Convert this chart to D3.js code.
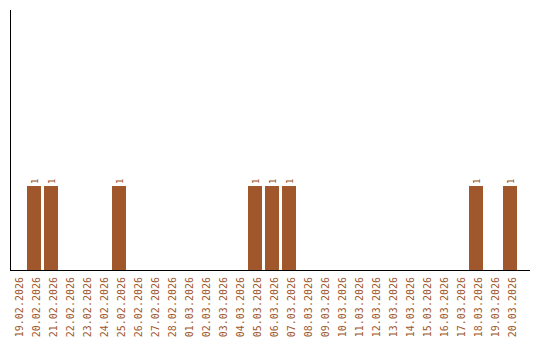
<!DOCTYPE html>
<html lang="en">
<head>
  <meta charset="UTF-8">
  <title>Daily count</title>
  <style>
    body { margin: 0; background: #fff; }
    svg { display: block; }
  </style>
</head>
<body>

<svg id="chart" width="540" height="340"></svg>

<script src="https://cdn.jsdelivr.net/npm/d3@7"></script>

<script>
var days = ["19.02.2026", "20.02.2026", "21.02.2026", "22.02.2026", "23.02.2026",
  "24.02.2026", "25.02.2026", "26.02.2026", "27.02.2026", "28.02.2026",
  "01.03.2026", "02.03.2026", "03.03.2026", "04.03.2026", "05.03.2026",
  "06.03.2026", "07.03.2026", "08.03.2026", "09.03.2026", "10.03.2026",
  "11.03.2026", "12.03.2026", "13.03.2026", "14.03.2026", "15.03.2026",
  "16.03.2026", "17.03.2026", "18.03.2026", "19.03.2026", "20.03.2026"];
var counts = [0, 1, 1, 0, 0, 0, 1, 0, 0, 0,
  0, 0, 0, 0, 1, 1, 1, 0, 0, 0,
  0, 0, 0, 0, 0, 0, 0, 1, 0, 1];

var svg = d3.select("#chart"),
  plotL = 10.5, plotR = 520.5, plotT = 10, plotB = 270,
  brown = "#a0572c";

var x = d3.scaleBand()
  .domain(days)
  .range([plotL, plotR]);

var y = d3.scaleLinear()
  .domain([0, 3.1])
  .range([plotB, plotT]);

var rows = days.map(function (d, i) { return { day: d, n: counts[i] }; });
var filled = rows.filter(function (d) { return d.n > 0; });

// bars
svg.append("g")
  .selectAll("rect")
  .data(filled)
  .join("rect")
    .attr("x", function (d) { return x(d.day) - 0.5; })
    .attr("y", function (d) { return Math.round(y(d.n)); })
    .attr("width", x.bandwidth() - 3)
    .attr("height", function (d) { return plotB - Math.round(y(d.n)); })
    .attr("fill", brown);

// value labels
svg.append("g")
  .selectAll("text")
  .data(filled)
  .join("text")
    .attr("transform", function (d) {
      return "translate(" + (x(d.day) + 10) + "," + (Math.round(y(d.n)) - 2) + ") rotate(-90)";
    })
    .attr("font-family", "DejaVu Sans Mono")
    .attr("font-size", 9)
    .attr("fill", brown)
    .text(function (d) { return d.n; });

// axes
svg.append("line")
  .attr("x1", plotL).attr("x2", plotL)
  .attr("y1", plotT).attr("y2", plotB)
  .attr("stroke", "#000");

svg.append("line")
  .attr("x1", plotL - 0.5).attr("x2", 530)
  .attr("y1", plotB + 0.5).attr("y2", plotB + 0.5)
  .attr("stroke", "#000");

// day labels
svg.append("g")
  .selectAll("text")
  .data(days)
  .join("text")
    .attr("transform", function (d) {
      return "translate(" + (x(d) + x.bandwidth() / 2 + 3.5) + ",277) rotate(-90)";
    })
    .attr("text-anchor", "end")
    .attr("font-family", "DejaVu Sans Mono")
    .attr("font-size", 10)
    .attr("fill", brown)
    .text(function (d) { return d; });
</script>

</body>
</html>
